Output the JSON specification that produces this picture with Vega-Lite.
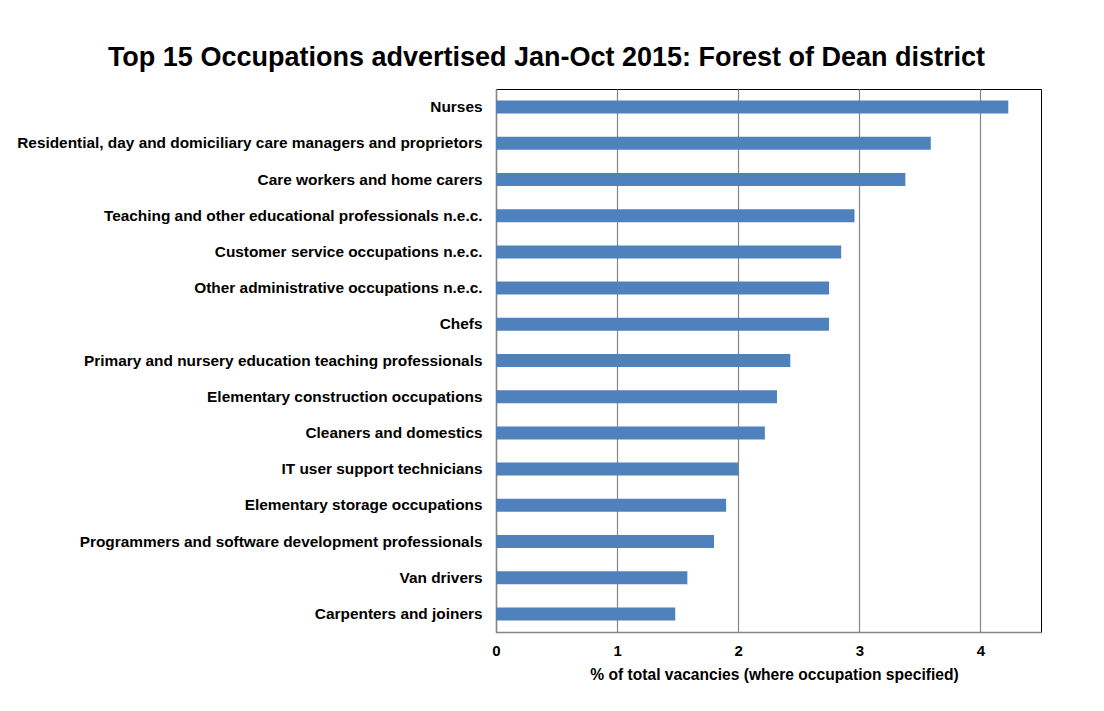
{
  "$schema": "https://vega.github.io/schema/vega-lite/v6.json",
  "autosize": "none",
  "width": 545,
  "height": 543,
  "padding": {"left": 496, "top": 89, "right": 63, "bottom": 79},
  "background": "white",
  "title": {
    "text": "Top 15 Occupations advertised Jan-Oct 2015: Forest of Dean district",
    "font": "Liberation Sans",
    "fontSize": 27,
    "fontWeight": "bold",
    "color": "#000000",
    "anchor": "middle",
    "dx": -222,
    "offset": 17
  },
  "config": {
    "view": {"stroke": "#000000", "strokeWidth": 1},
    "font": "Liberation Sans"
  },
  "data": {
    "values": [
      {"occupation": "Nurses\u2002", "pct": 4.23},
      {"occupation": "Residential, day and domiciliary care managers and proprietors", "pct": 3.59},
      {"occupation": "Care workers and home carers\u2002", "pct": 3.38},
      {"occupation": "Teaching and other educational professionals n.e.c.", "pct": 2.96},
      {"occupation": "Customer service occupations n.e.c.", "pct": 2.85},
      {"occupation": "Other administrative occupations n.e.c.", "pct": 2.75},
      {"occupation": "Chefs", "pct": 2.75},
      {"occupation": "Primary and nursery education teaching professionals\u2002", "pct": 2.43},
      {"occupation": "Elementary construction occupations", "pct": 2.32},
      {"occupation": "Cleaners and domestics\u2002", "pct": 2.22},
      {"occupation": "IT user support technicians\u2002", "pct": 2.0},
      {"occupation": "Elementary storage occupations\u2002", "pct": 1.9},
      {"occupation": "Programmers and software development professionals", "pct": 1.8},
      {"occupation": "Van drivers\u2002", "pct": 1.58},
      {"occupation": "Carpenters and joiners", "pct": 1.48}
    ]
  },
  "mark": {"type": "bar", "color": "#4F81BD"},
  "encoding": {
    "y": {
      "field": "occupation",
      "type": "nominal",
      "sort": null,
      "scale": {"paddingInner": 0.64, "paddingOuter": 0.32},
      "axis": {
        "title": null,
        "ticks": false,
        "labelPadding": 14,
        "labelFont": "Liberation Sans",
        "labelFontSize": 15.4,
        "labelFontWeight": "bold",
        "labelColor": "#000000",
        "labelLimit": 600,
        "domainColor": "#868686",
        "domainWidth": 1.5,
        "grid": false
      }
    },
    "x": {
      "field": "pct",
      "type": "quantitative",
      "scale": {"domain": [0, 4.5], "nice": false},
      "axis": {
        "values": [0, 1, 2, 3, 4],
        "title": "% of total vacancies (where occupation specified)",
        "titleFont": "Liberation Sans",
        "titleFontSize": 15.6,
        "titleFontWeight": "bold",
        "titleColor": "#000000",
        "titlePadding": 9,
        "titleX": 278,
        "ticks": false,
        "labelPadding": 11,
        "labelFont": "Liberation Sans",
        "labelFontSize": 15,
        "labelFontWeight": "bold",
        "labelColor": "#000000",
        "labelFlush": false,
        "domainColor": "#868686",
        "domainWidth": 1.5,
        "grid": true,
        "gridColor": "#868686",
        "gridWidth": 1.2
      }
    }
  }
}
